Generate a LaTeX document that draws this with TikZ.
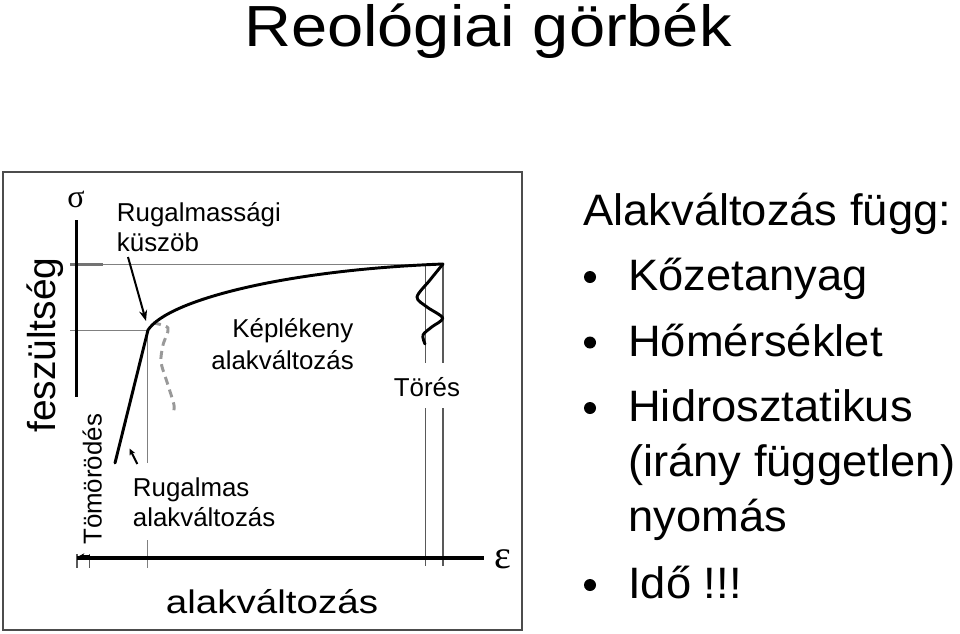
\documentclass[tikz,border=0pt]{standalone}
\usepackage{fontspec}
\setmainfont{Liberation Sans}
\newfontfamily\symf{Liberation Serif}
\usepackage{graphicx}
\usetikzlibrary{arrows.meta}
\begin{document}
\begin{tikzpicture}[x=0.75pt,y=-0.75pt,
  lbl/.style={inner sep=0pt, font=\fontsize{19.4}{23}\selectfont},
  lst/.style={inner sep=0pt, anchor=base west, font=\fontsize{33}{40}\selectfont},
  guide/.style={draw=black!50, line width=1.1pt},
  thin/.style={draw=black!65, line width=0.9pt},
  axis/.style={draw=black, line width=2.4pt},
  curve/.style={draw=black, line width=2.2pt, line cap=round, line join=round},
  dashcurve/.style={draw=black!40, line width=2.2pt, dash pattern=on 6pt off 4pt},
  arr/.style={draw=black, line width=1.5pt, -{Stealth[length=8pt,width=6pt]}},
  sarr/.style={draw=black, line width=1.5pt, -{Stealth[length=5pt,width=4.5pt]}},
  bul/.style={fill=black}]
\useasboundingbox (0,0) rectangle (960,633);
\fill[white] (0,0) rectangle (960,633);

% title
\node[inner sep=0pt, anchor=base, font=\fontsize{43.5}{50}\selectfont] (title) at (488,46.7) {\scalebox{1.12}[1]{Reológiai görbék}};

% frame
\draw[draw=black!70, line width=1.4pt] (3,172) rectangle (522,630);

% guide lines
\draw[guide] (70,264.5) -- (443,264.5);
\draw[draw=black!55, line width=2.2pt] (70,264.5) -- (103,264.5);
\draw[guide] (70,330.5) -- (148,330.5);
\draw[guide] (147.5,330) -- (147.5,463);
\draw[guide] (147.5,540) -- (147.5,568);
\draw[thin] (425.7,264) -- (425.7,363);
\draw[thin] (425.7,408) -- (425.7,566);
\draw[thin] (443,264) -- (443,363);
\draw[thin] (443,408) -- (443,566);
\draw[thin] (77,554) -- (77,568);
\draw[thin] (89.3,554) -- (89.3,568);

% axes
\draw[axis] (76.5,220) -- (76.5,397);
\draw[axis] (77,558) -- (484,558);
\coordinate (tinyA) at (90,556);
\coordinate (tinyB) at (79,556);
\draw[draw=black, line width=1pt, -{Stealth[length=4pt,width=4pt]}] (tinyA) -- (tinyB);

\node[inner sep=0pt, anchor=base, font=\symf\fontsize{24}{28}\selectfont] (sigma) at (76,207) {σ};
\node[inner sep=0pt, anchor=base, font=\symf\fontsize{30}{34}\selectfont] (eps) at (503,568) {ε};

% dashed unloading curve
\draw[dashcurve] plot[smooth] coordinates {(153,323) (168,328) (163,345) (161,362) (167,382) (174,405) (173,413)};

% stress-strain curve
\coordinate (base) at (115,463);
\coordinate (yield) at (148,330);
\coordinate (topp) at (443,264);
\draw[curve] (base) -- (yield) .. controls (168,300) and (285,270) .. (topp);
\draw[curve] plot[smooth] coordinates {(443,264) (430,280) (417,297) (427,307) (442.7,318) (431.7,327) (423,335) (425,344)};

% labels
\node[lbl, anchor=base west] (rk1) at (116.7,221.7) {Rugalmassági};
\node[lbl, anchor=base west] (rk2) at (116.7,251.7) {küszöb};
\coordinate (a1s) at (128,257);
\coordinate (a1e) at (146,321);
\draw[arr] (a1s) -- (a1e);

\node[lbl, anchor=base east] (kp1) at (353.5,337) {Képlékeny};
\node[lbl, anchor=base east] (kp2) at (354,369) {alakváltozás};

\node[lbl, anchor=base] (tores) at (427,396.7) {Törés};

\node[lbl, anchor=base west] (rg1) at (132.7,496.7) {Rugalmas};
\node[lbl, anchor=base west] (rg2) at (132.7,526.7) {alakváltozás};
\coordinate (a2s) at (137.3,464);
\coordinate (a2e) at (129.5,448.5);
\draw[sarr] (a2s) -- (a2e);

\node[lbl, rotate=90, anchor=base west] (tom) at (101.7,545) {Tömörödés};
\node[inner sep=0pt, rotate=90, anchor=base west, font=\fontsize{29.2}{34}\selectfont] (fesz) at (55,433) {feszültség};

\node[inner sep=0pt, anchor=base, font=\fontsize{24.5}{30}\selectfont] (xlab) at (272,613.3) {\scalebox{1.18}[1]{alakváltozás}};

% right list
\node[lst] (l0) at (583,225) {\scalebox{1.03}[1]{Alakváltozás függ:}};
\fill[bul] (590,277) circle[radius=4.5pt];
\node[lst] (l1) at (628,290) {\scalebox{1.03}[1]{Kőzetanyag}};
\fill[bul] (590,342.5) circle[radius=4.5pt];
\node[lst] (l2) at (628,356.5) {\scalebox{1.03}[1]{Hőmérséklet}};
\fill[bul] (590,408) circle[radius=4.5pt];
\node[lst] (l3) at (628,421.5) {\scalebox{1.03}[1]{Hidrosztatikus}};
\node[lst] (l4) at (628,476.5) {\scalebox{1.03}[1]{(irány független)}};
\node[lst] (l5) at (628,531.5) {\scalebox{1.03}[1]{nyomás}};
\fill[bul] (590,585) circle[radius=4.5pt];
\node[lst] (l6) at (628,598) {\scalebox{1.03}[1]{Idő !!!}};
\end{tikzpicture}
\end{document}
